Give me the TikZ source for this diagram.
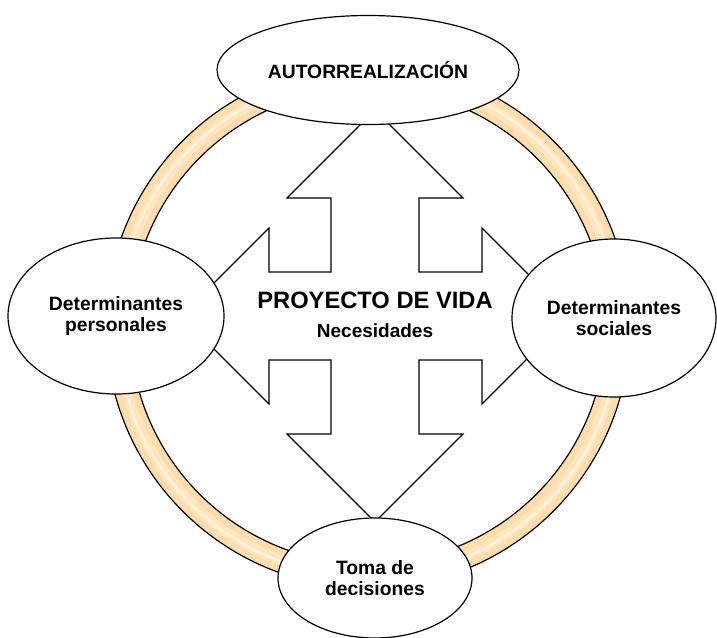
\documentclass[tikz,border=0pt]{standalone}
\usepackage{fontspec}
\setmainfont{Liberation Sans}
\usetikzlibrary{positioning,shapes.geometric}
\definecolor{ringpeach}{RGB}{253,221,172}
\definecolor{ringlight}{RGB}{254,229,190}
\definecolor{ringshine}{RGB}{255,240,214}

\begin{document}
\begin{tikzpicture}[x=1pt, y=-1pt,
    bubble/.style={ellipse, draw=black, line width=1.2pt, fill=white, align=center, inner sep=0pt, font=\fontsize{19.3}{21.5}\selectfont\bfseries},
    crossarrow/.style={draw=black, line width=1.2pt, fill=white, line join=miter},
    ringline/.style={draw=black, line width=1.2pt}
  ]
    \useasboundingbox (0,0) rectangle (717,637);

    % ring behind everything
    \coordinate (ringc) at (368,326);
    \draw[ringpeach, line width=24pt] (ringc) circle[radius=250pt];
    \draw[ringlight, line width=10pt] (ringc) circle[radius=250pt];
    \draw[ringshine, line width=3pt] (ringc) circle[radius=251pt];
    \draw[ringline] (ringc) circle[radius=238pt];
    \draw[ringline] (ringc) circle[radius=262pt];

    % four-way arrow
    \draw[crossarrow] (375,110) -- (463,198) -- (419,198) -- (419,272) -- (482,272) -- (482,228)
      -- (570,316) -- (482,404) -- (482,360) -- (419,360) -- (419,434) -- (463,434)
      -- (375,522) -- (287,434) -- (331,434) -- (331,360) -- (269,360) -- (269,404)
      -- (181,316) -- (269,228) -- (269,272) -- (331,272) -- (331,198) -- (287,198) -- cycle;

    \node[inner sep=0pt, font=\fontsize{23.7}{26}\selectfont\bfseries] (proy) at (375,300) {PROYECTO DE VIDA};
    \node[inner sep=0pt, font=\fontsize{19}{21}\selectfont\bfseries, below=15pt of proy] (nec) {Necesidades};

    \node[bubble, minimum width=302pt, minimum height=109pt] (auto) at (368,70) {AUTORREALIZACIÓN};
    \node[bubble, minimum width=216pt, minimum height=156pt] (pers) at (116,316) {Determinantes\\personales};
    \node[bubble, minimum width=204pt, minimum height=158pt] (soc) at (614,318) {Determinantes\\sociales};
    \node[bubble, minimum width=194pt, minimum height=120pt] (toma) at (375,578) {Toma de\\decisiones};
  \end{tikzpicture}
\end{document}
